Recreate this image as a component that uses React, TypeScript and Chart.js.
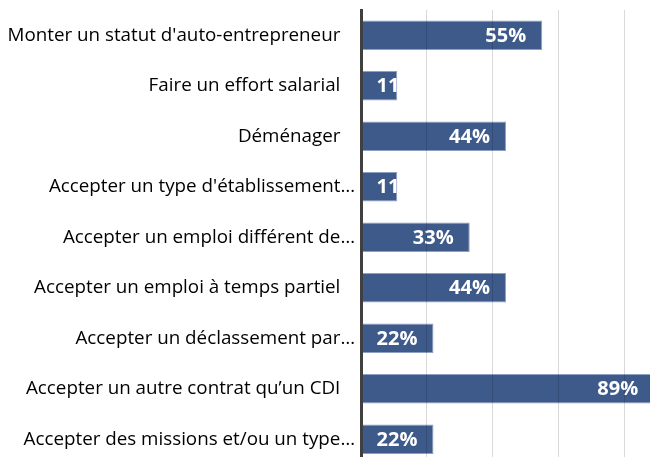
import React, { useEffect, useRef } from "react";
import { Chart, registerables } from "chart.js";

Chart.register(...registerables);

const categories: string[] = [
  "Monter un statut d'auto-entrepreneur",
  "Faire un effort salarial",
  "Déménager",
  "Accepter un type d'établissement…",
  "Accepter un emploi différent de…",
  "Accepter un emploi à temps partiel",
  "Accepter un déclassement par…",
  "Accepter un autre contrat qu’un CDI",
  "Accepter des missions et/ou un type…",
];
const values: number[] = [55, 11, 44, 11, 33, 44, 22, 89, 22];
const valueLabels: string[] = ["55%", "11%", "44%", "11%", "33%", "44%", "22%", "89%", "22%"];
const xTicks: number[] = [0, 20, 40, 60, 80, 100];

const W = 700;
const H = 470;

const barLabelPlugin = {
  id: "barLabels",
  afterDatasetsDraw(chart: any) {
    const ctx = chart.ctx as CanvasRenderingContext2D;
    const meta = chart.getDatasetMeta(0);
    ctx.save();
    ctx.font = "bold 20px 'Open Sans'";
    ctx.fillStyle = "#ffffff";
    ctx.textBaseline = "middle";
    ctx.textAlign = "left";
    meta.data.forEach((bar: any, i: number) => {
      const p = bar.getProps(["x", "y", "base", "height"], true);
      const text = valueLabels[i];
      const w = ctx.measureText(text).width;
      const tx = Math.max(p.base + 15, p.x - 16 - w);
      ctx.save();
      ctx.beginPath();
      ctx.rect(p.base, p.y - p.height / 2, p.x - p.base, p.height);
      ctx.clip();
      ctx.fillText(text, tx, p.y + 1);
      ctx.restore();
    });
    ctx.restore();
  },
};

export default function App() {
  const ref = useRef<HTMLCanvasElement | null>(null);
  useEffect(() => {
    if (!ref.current) return;
    const chart = new Chart(ref.current, {
      type: "bar",
      data: {
        labels: categories,
        datasets: [
          {
            data: values,
            backgroundColor: "#3e5a8b",
            borderColor: "#8d9fc2",
            borderWidth: 1,
            borderSkipped: false,
            barPercentage: 0.584,
            categoryPercentage: 1,
          },
        ],
      },
      options: {
        indexAxis: "y",
        animation: false,
        responsive: false,
        devicePixelRatio: 1,
        layout: { padding: { top: 10, right: 9.5, bottom: 5.5, left: 0 } },
        plugins: { legend: { display: false }, tooltip: { enabled: false } },
        scales: {
          x: {
            min: 0,
            max: 100,
            afterBuildTicks: (scale: any) => {
              scale.ticks = xTicks.map((v) => ({ value: v }));
            },
            afterFit: (scale: any) => {
              scale.height = 0;
              scale.paddingLeft = 0;
              scale.paddingRight = 0;
            },
            ticks: { display: false },
            grid: { color: "rgba(0,0,0,0.15)", lineWidth: 1, drawTicks: false, z: 1 },
            border: { display: false },
          },
          y: {
            afterFit: (scale: any) => {
              scale.width = 361;
              scale.paddingTop = 0;
              scale.paddingBottom = 0;
            },
            ticks: {
              color: "#000000",
              padding: 6,
              font: { family: "'Open Sans'", size: 18.8 },
              autoSkip: false,
              callback: (_v: any, i: number) =>
                categories[i].endsWith("…") ? categories[i] : categories[i] + "   ",
            },
            grid: { display: false, drawTicks: false },
            border: { display: true, color: "#404040", width: 3, z: 1 },
          },
        },
      },
      plugins: [barLabelPlugin],
    });
    return () => chart.destroy();
  }, []);
  return (
    <div style={{ position: "absolute", left: 0, top: 0, width: 650, height: 457, overflow: "hidden", background: "#fff" }}>
      <canvas ref={ref} width={W} height={H} style={{ width: W, height: H, display: "block" }} />
    </div>
  );
}
